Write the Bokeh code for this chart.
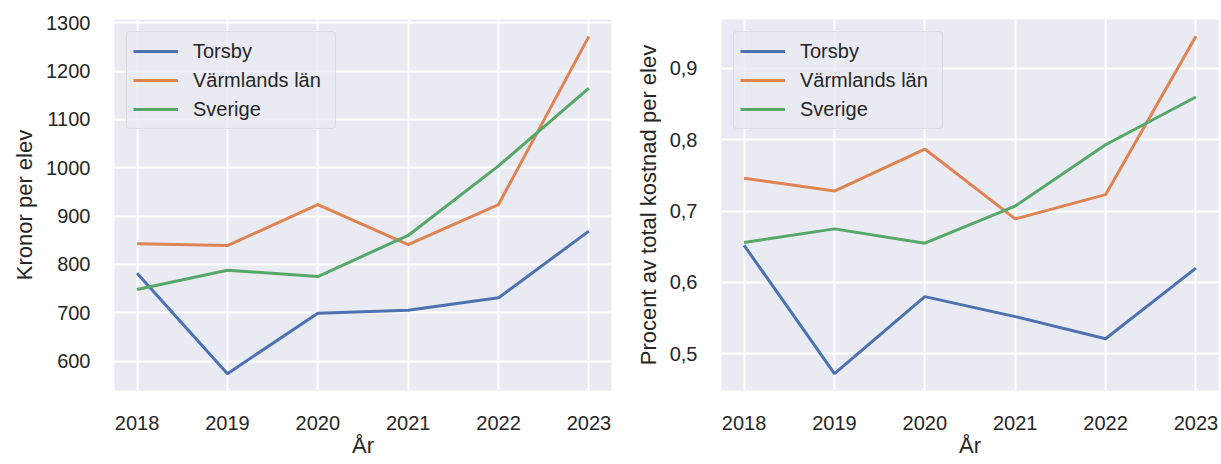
from bokeh.plotting import figure
from bokeh.layouts import row
from bokeh.models import Range1d, FixedTicker, CustomJSTickFormatter, BasicTickFormatter, Legend, LegendItem
from bokeh.embed import file_html
from bokeh.resources import INLINE

years = [2018, 2019, 2020, 2021, 2022, 2023]
series_names = ["Torsby", "Värmlands län", "Sverige"]

kronor_torsby = [782, 574, 699, 705, 731, 869]
kronor_varmland = [843, 839, 924, 841, 924, 1272]
kronor_sverige = [748, 788, 775, 860, 1004, 1165]

procent_torsby = [0.652, 0.472, 0.580, 0.552, 0.521, 0.620]
procent_varmland = [0.746, 0.728, 0.787, 0.689, 0.723, 0.945]
procent_sverige = [0.656, 0.675, 0.655, 0.707, 0.793, 0.860]

kronor_ticks = [600, 700, 800, 900, 1000, 1100, 1200, 1300]
procent_ticks = [0.5, 0.6, 0.7, 0.8, 0.9]

x_label = "År"
y_label_left = "Kronor per elev"
y_label_right = "Procent av total kostnad per elev"

colors = ["#4C72B0", "#DD8452", "#55A868"]
FONT = "Liberation Sans"
TXT = "#262626"
BG = "#EAEAF2"

H = 464
TOP = 19
FRAME_H = 371
FRAME_W = 497


def padded(vals, frac=0.05):
    lo, hi = min(vals), max(vals)
    d = (hi - lo) * frac
    return lo - d, hi + d


def panel(series, yticks, ylabel, formatter, mbl, mbr):
    allv = [v for s in series for v in s]
    y0, y1 = padded(allv)
    x0, x1 = padded(years)
    p = figure(width=mbl + FRAME_W + mbr, height=H, output_backend="svg", toolbar_location=None,
               x_range=Range1d(x0, x1), y_range=Range1d(y0, y1),
               min_border_left=mbl, min_border_right=mbr, min_border_top=TOP,
               min_border_bottom=H - TOP - FRAME_H)
    p.background_fill_color = BG
    p.border_fill_color = "white"
    p.outline_line_color = None

    items = []
    for name, vals, c in zip(series_names, series, colors):
        r = p.line(years, vals, line_color=c, line_width=3)
        items.append(LegendItem(label=name, renderers=[r]))

    p.xaxis.ticker = FixedTicker(ticks=years)
    p.yaxis.ticker = FixedTicker(ticks=yticks)
    p.yaxis.formatter = formatter
    p.xaxis.axis_label = x_label
    p.yaxis.axis_label = ylabel

    for ax in (p.xaxis, p.yaxis):
        ax.axis_line_color = None
        ax.major_tick_line_color = None
        ax.minor_tick_line_color = None
        ax.major_tick_out = 0
        ax.major_tick_in = 0
        ax.major_label_text_font = FONT
        ax.major_label_text_font_size = "20px"
        ax.major_label_text_color = TXT
        ax.axis_label_text_font = FONT
        ax.axis_label_text_font_size = "22px"
        ax.axis_label_text_font_style = "normal"
        ax.axis_label_text_color = TXT
    p.xaxis.major_label_standoff = 25
    p.xaxis.axis_label_standoff = 0
    p.yaxis.major_label_standoff = 24
    p.yaxis.axis_label_standoff = 6

    p.xgrid.grid_line_color = "white"
    p.ygrid.grid_line_color = "white"
    p.xgrid.grid_line_width = 2
    p.ygrid.grid_line_width = 2

    leg = Legend(items=items, location="top_left")
    leg.margin = 12
    leg.padding = 6
    leg.spacing = 3
    leg.glyph_width = 45
    leg.glyph_height = 26
    leg.label_height = 26
    leg.label_width = 136
    leg.label_standoff = 15
    leg.label_text_font = FONT
    leg.label_text_font_size = "20px"
    leg.label_text_color = TXT
    leg.background_fill_color = BG
    leg.background_fill_alpha = 0.8
    leg.border_line_color = "#CCCCCC"
    leg.border_line_width = 1.5
    try:
        leg.border_radius = 4
    except Exception:
        pass
    p.add_layout(leg)
    return p


p1 = panel([kronor_torsby, kronor_varmland, kronor_sverige], kronor_ticks, y_label_left,
           BasicTickFormatter(use_scientific=False), 114, 5)
p2 = panel([procent_torsby, procent_varmland, procent_sverige], procent_ticks, y_label_right,
           CustomJSTickFormatter(code="return tick.toFixed(1).replace('.', ',');"), 105, 2)

layout = row(p1, p2)
open("out.html", "w").write(file_html(layout, INLINE))
